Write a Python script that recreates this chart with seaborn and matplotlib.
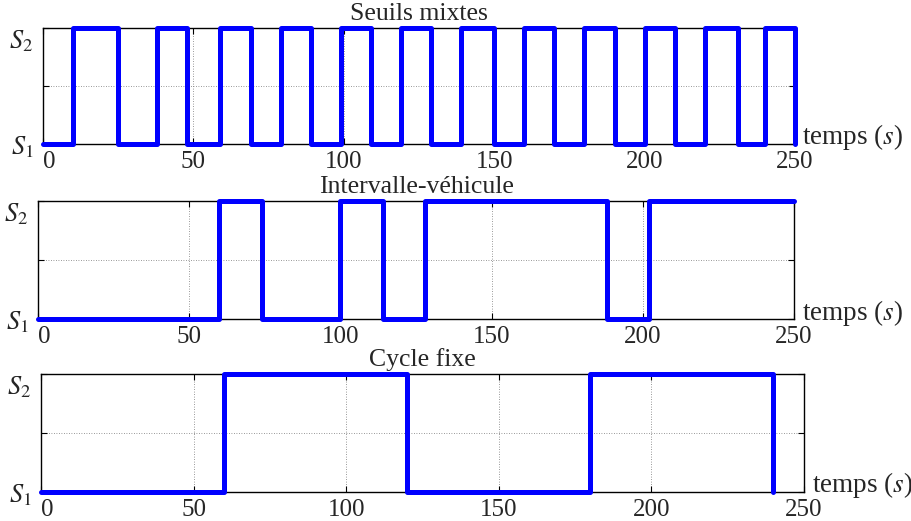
import numpy as np
import pandas as pd
import seaborn as sns
import matplotlib
matplotlib.use("Agg")
import matplotlib.pyplot as plt
from matplotlib.transforms import ScaledTranslation

# ---- data ----
titles = ["Seuils mixtes", "Intervalle-véhicule", "Cycle fixe"]
t_mixtes = [0, 10, 25, 38, 48, 59, 69, 79, 89, 99, 109, 119, 129,
            139, 150, 160, 170, 180, 190, 200, 210, 220, 231, 240, 250]
s_mixtes = [0, 1, 0, 1, 0, 1, 0, 1, 0, 1, 0, 1, 0,
            1, 0, 1, 0, 1, 0, 1, 0, 1, 0, 1, 0]
t_interv = [0, 60, 74, 100, 114, 128, 188, 202, 250]
s_interv = [0, 1, 0, 1, 0, 1, 0, 1, 1]
t_cycle = [0, 60, 120, 180, 240]
s_cycle = [0, 1, 0, 1, 0]
x_ticks = [0, 50, 100, 150, 200, 250]
y_ticks = [0, 0.5, 1]
y_ticklabels = [r"$S_1$", "", r"$S_2$"]
xlabel = r"temps ($s$)"

series = [(t_mixtes, s_mixtes), (t_interv, s_interv), (t_cycle, s_cycle)]

sns.set_theme(style="white")
plt.rcParams["font.family"] = ["Liberation Serif", "DejaVu Serif"]
plt.rcParams["mathtext.fontset"] = "stix"

W, H = 911, 521
fig = plt.figure(figsize=(W / 100, H / 100), dpi=100)
fig.patch.set_facecolor("white")

boxes = [(43, 795, 28, 144), (38, 794, 201, 319), (41, 804, 374, 492)]

for (l, r, t, b), (tx, sy), title in zip(boxes, series, titles):
    ax = fig.add_axes([l / W, 1 - b / H, (r - l) / W, (b - t) / H])
    df = pd.DataFrame({"t": tx, "s": sy})
    sns.lineplot(data=df, x="t", y="s", ax=ax, color="#0000ff", lw=3.6,
                 drawstyle="steps-post", clip_on=False, zorder=5, sort=False,
                 estimator=None)
    ax.set_xlim(0, 250)
    ax.set_ylim(0, 1)
    ax.set_xticks(x_ticks)
    ax.set_xticklabels([str(v) for v in x_ticks], fontsize=18)
    ax.get_xticklabels()[0].set_horizontalalignment("left")
    ax.set_yticks(y_ticks)
    ax.set_yticklabels(y_ticklabels, fontsize=19)
    ax.get_yticklabels()[2].set_verticalalignment("top")
    ax.set_xlabel("")
    ax.set_ylabel("")
    ax.grid(True, linestyle=(0, (1, 2)), color="#777777", linewidth=0.6)
    ax.tick_params(direction="in", length=4, width=0.8, color="black",
                   top=True, right=True, bottom=True, left=True,
                   pad=5)
    ax.tick_params(axis="y", pad=7)
    for sp in ax.spines.values():
        sp.set_visible(True)
        sp.set_color("black")
        sp.set_linewidth(1.0)
    ax.set_title(title, fontsize=18.5, pad=6)
    ax.text(1.0, 0.0, xlabel, fontsize=19.5, ha="left", va="bottom",
            transform=ax.transAxes + ScaledTranslation(0.075, -0.085, fig.dpi_scale_trans))
    ax.set_facecolor("white")

fig.savefig("out.png", dpi=100, facecolor="white")
